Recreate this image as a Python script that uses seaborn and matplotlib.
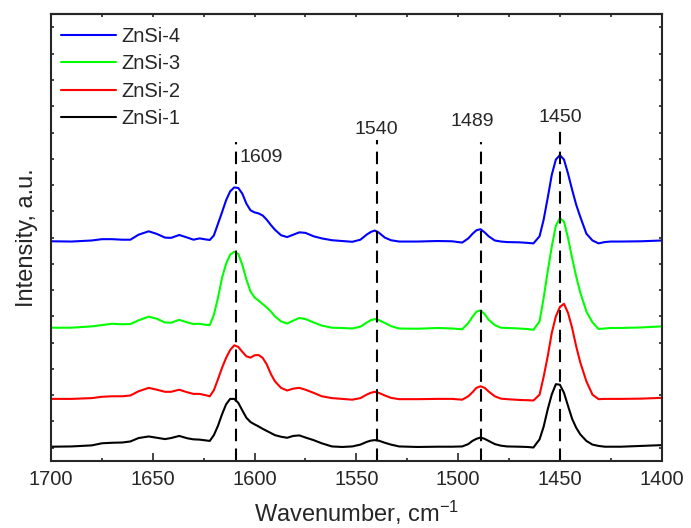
import numpy as np
import pandas as pd
import matplotlib
matplotlib.use("Agg")
import matplotlib.pyplot as plt
from matplotlib.ticker import MultipleLocator, NullFormatter
import seaborn as sns

# ------------------ DATA ------------------
# wavenumber grid (cm-1)
wavenumber = [
    1700, 1690, 1680, 1675, 1670, 1665, 1661, 1657, 1652, 1648, 1644, 1641, 1637, 1633, 1630, 1627,
    1624, 1622, 1620, 1618, 1616, 1614, 1612, 1610, 1608, 1606, 1604, 1602, 1600, 1598, 1596, 1594,
    1592, 1590, 1587, 1584, 1581, 1578, 1575, 1571, 1567, 1562, 1557,
    1552, 1548, 1545, 1543, 1541, 1539, 1536, 1533, 1529, 1520, 1510, 1503, 1498,
    1495, 1493, 1491, 1489, 1487, 1485, 1482, 1479, 1476, 1470, 1466, 1463,
    1460, 1458, 1456, 1454, 1452, 1450, 1448, 1446, 1444, 1442, 1440,
    1437, 1434, 1431, 1428, 1425, 1420, 1410, 1400,
]

# intensities (a.u.) relative to each spectrum's own baseline
znsi_1 = [
    0.000, 0.001, 0.005, 0.013, 0.015, 0.016, 0.020, 0.033, 0.039, 0.034, 0.029, 0.033, 0.041, 0.032, 0.028, 0.027,
    0.024, 0.022, 0.044, 0.079, 0.123, 0.161, 0.182, 0.182, 0.167, 0.138, 0.110, 0.094, 0.085, 0.077, 0.068, 0.060,
    0.052, 0.044, 0.038, 0.034, 0.041, 0.043, 0.035, 0.025, 0.013, 0.001, -0.001,
    0.001, 0.008, 0.018, 0.023, 0.025, 0.023, 0.015, 0.008, 0.001, -0.001, 0.000, 0.000, 0.001,
    0.010, 0.022, 0.030, 0.035, 0.030, 0.022, 0.010, 0.004, 0.001, 0.000, -0.001, -0.003,
    0.028, 0.076, 0.142, 0.199, 0.238, 0.236, 0.205, 0.155, 0.106, 0.072, 0.047,
    0.022, 0.008, 0.003, 0.000, 0.000, 0.000, 0.003, 0.006,
]
znsi_2 = [
    0.000, 0.000, 0.003, 0.008, 0.010, 0.010, 0.013, 0.029, 0.042, 0.035, 0.027, 0.027, 0.035, 0.025, 0.019, 0.019,
    0.014, 0.010, 0.033, 0.074, 0.118, 0.156, 0.186, 0.204, 0.198, 0.179, 0.162, 0.157, 0.166, 0.167, 0.156, 0.131,
    0.095, 0.067, 0.042, 0.032, 0.039, 0.042, 0.035, 0.023, 0.010, 0.003, 0.000,
    -0.003, 0.003, 0.016, 0.023, 0.027, 0.023, 0.013, 0.004, -0.001, -0.001, 0.000, 0.000, -0.003,
    0.010, 0.025, 0.042, 0.048, 0.042, 0.028, 0.010, 0.001, -0.001, -0.004, -0.005, -0.006,
    0.016, 0.084, 0.162, 0.251, 0.314, 0.350, 0.362, 0.327, 0.270, 0.200, 0.139,
    0.067, 0.016, -0.001, 0.000, 0.000, 0.000, 0.001, 0.004,
]
znsi_3 = [
    0.000, 0.000, 0.005, 0.010, 0.015, 0.013, 0.014, 0.028, 0.042, 0.034, 0.020, 0.019, 0.030, 0.020, 0.014, 0.015,
    0.011, 0.010, 0.049, 0.113, 0.189, 0.243, 0.278, 0.289, 0.281, 0.239, 0.183, 0.138, 0.115, 0.103, 0.090, 0.077,
    0.062, 0.043, 0.024, 0.016, 0.027, 0.037, 0.033, 0.020, 0.008, 0.000, -0.001,
    -0.003, 0.004, 0.019, 0.028, 0.033, 0.029, 0.018, 0.006, -0.003, -0.004, -0.001, -0.003, -0.006,
    0.018, 0.041, 0.061, 0.066, 0.052, 0.030, 0.010, 0.000, -0.001, -0.003, -0.005, -0.008,
    0.024, 0.113, 0.214, 0.309, 0.388, 0.417, 0.404, 0.341, 0.265, 0.195, 0.134,
    0.062, 0.020, -0.005, -0.003, -0.001, -0.001, 0.001, 0.005,
]
znsi_4 = [
    0.000, -0.001, 0.003, 0.008, 0.008, 0.006, 0.006, 0.025, 0.038, 0.028, 0.014, 0.013, 0.024, 0.014, 0.006, 0.011,
    0.007, 0.005, 0.022, 0.066, 0.110, 0.156, 0.190, 0.205, 0.203, 0.181, 0.143, 0.118, 0.110, 0.106, 0.098, 0.082,
    0.062, 0.044, 0.023, 0.016, 0.025, 0.034, 0.032, 0.019, 0.011, 0.004, 0.001,
    -0.002, 0.006, 0.025, 0.035, 0.041, 0.033, 0.014, 0.004, -0.001, -0.001, 0.001, 0.000, -0.005,
    0.011, 0.028, 0.042, 0.046, 0.034, 0.019, 0.003, -0.001, -0.003, -0.004, -0.006, -0.008,
    0.019, 0.082, 0.165, 0.253, 0.311, 0.328, 0.311, 0.257, 0.196, 0.139, 0.093,
    0.029, 0.003, -0.008, -0.003, -0.001, -0.001, 0.000, 0.003,
]

samples = ["ZnSi-1", "ZnSi-2", "ZnSi-3", "ZnSi-4"]
offsets = [0.004, 0.186, 0.457, 0.786]  # vertical stacking of the spectra
colors = ["#000000", "#ff0000", "#00ff00", "#0000ff"]

band_positions = [1609, 1540, 1489, 1450]
band_labels = ["1609", "1540", "1489", "1450"]

# ------------------ STYLE ------------------
sns.set_style("ticks")
plt.rcParams["font.family"] = ["Liberation Sans", "DejaVu Sans"]
plt.rcParams["mathtext.default"] = "regular"
plt.rcParams["axes.linewidth"] = 1.5
plt.rcParams["xtick.direction"] = "in"
plt.rcParams["ytick.direction"] = "in"

# ------------------ FRAME ------------------
spectra = pd.DataFrame({"wavenumber": wavenumber})
for name, values, off in zip(samples, [znsi_1, znsi_2, znsi_3, znsi_4], offsets):
    spectra[name] = np.array(values) + off
long_df = spectra.melt(id_vars="wavenumber", var_name="sample", value_name="intensity")

# ------------------ PLOT ------------------
fig = plt.figure(figsize=(6.91, 5.28), dpi=100)
ax = fig.add_axes([0.0738, 0.1274, 0.8838, 0.8455])

hue_order = samples[::-1]
palette = dict(zip(samples, colors))
sns.lineplot(data=long_df, x="wavenumber", y="intensity", hue="sample",
             hue_order=hue_order, palette=palette, estimator=None,
             linewidth=1.5, ax=ax)

ax.set_xlim(1700, 1400)
ax.set_ylim(-0.0494, 1.650)

# dashed guide lines + band labels
line_tops = [0.715, 0.719, 0.713, 0.741]
label_y = [0.680, 0.743, 0.759, 0.769]
label_dx = [2.5, 0, -6, 0]
label_ha = ["left", "center", "center", "center"]
for pos, txt, top, ly, dx, ha in zip(band_positions, band_labels, line_tops, label_y, label_dx, label_ha):
    ax.axvline(pos, ymin=0, ymax=top, color="black", linewidth=1.5, dashes=(6, 3.5))
    ax.annotate(txt, xy=(pos, ly), xycoords=("data", "axes fraction"),
                xytext=(dx, 0), textcoords="offset points",
                ha=ha, va="center", fontsize=14)

# ticks
ax.xaxis.set_major_locator(MultipleLocator(50))
ax.xaxis.set_minor_locator(MultipleLocator(25))
ax.yaxis.set_major_locator(MultipleLocator(0.1))
ax.yaxis.set_major_formatter(NullFormatter())
ax.tick_params(axis="x", which="major", length=6, width=1.2, labelsize=14.5, pad=7)
ax.tick_params(axis="x", which="minor", length=2.5, width=1.2)
ax.tick_params(axis="y", which="major", length=2.5, width=1.2, right=True)

top = ax.secondary_xaxis("top")
top.xaxis.set_major_locator(MultipleLocator(25))
top.xaxis.set_major_formatter(NullFormatter())
top.tick_params(axis="x", direction="in", length=2.5, width=1.2)

ax.set_xlabel("Wavenumber, cm$^{-1}$", fontsize=17, labelpad=7)
ax.set_ylabel("Intensity, a.u.", fontsize=17, labelpad=6)

ax.legend(loc="upper left", bbox_to_anchor=(0.017, 0.972), frameon=False,
          fontsize=14.5, handlelength=2.7, handletextpad=0.3,
          labelspacing=0.42, borderaxespad=0, borderpad=0)

fig.savefig("out.png", dpi=100)
